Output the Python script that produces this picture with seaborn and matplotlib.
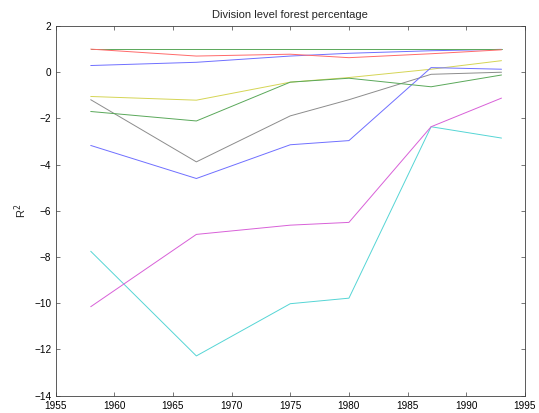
import matplotlib
matplotlib.use('Agg')
import matplotlib.pyplot as plt
import seaborn as sns
import pandas as pd

# Data
years = [1958, 1967, 1975, 1980, 1987, 1993]
blue_top = [0.29, 0.43, 0.70, 0.82, 0.93, 0.99]
green_top = [0.99, 0.99, 0.99, 0.99, 0.99, 0.99]
red = [1.00, 0.70, 0.78, 0.63, 0.80, 0.97]
cyan = [-7.75, -12.28, -10.02, -9.78, -2.36, -2.85]
magenta = [-10.15, -7.02, -6.62, -6.50, -2.36, -1.12]
yellow = [-1.05, -1.21, -0.43, -0.23, 0.13, 0.50]
black = [-1.19, -3.88, -1.89, -1.19, -0.09, 0.00]
blue_low = [-3.17, -4.60, -3.14, -2.96, 0.20, 0.13]
green_low = [-1.70, -2.11, -0.43, -0.26, -0.63, -0.12]

series = {
    's1': blue_top, 's2': green_top, 's3': red, 's4': cyan, 's5': magenta,
    's6': yellow, 's7': black, 's8': blue_low, 's9': green_low,
}
# thin MATLAB-style lines look washed out, so use lighter tints
colors = ['#6f6fff', '#5aa85a', '#ff6a6a', '#55d5d5', '#d860d8',
          '#d5d555', '#8c8c8c', '#6f6fff', '#5aa85a']


def main():
    rows = []
    for name, vals in series.items():
        for yr, v in zip(years, vals):
            rows.append({'year': yr, 'r2': v, 'series': name})
    df = pd.DataFrame(rows)

    sns.set_style('ticks')
    plt.rcParams['font.family'] = ['Liberation Sans', 'DejaVu Sans']

    fig = plt.figure(figsize=(5.39, 4.13), dpi=100)
    ax = fig.add_axes([0.103, 0.042, 0.871, 0.895])
    sns.lineplot(data=df, x='year', y='r2', hue='series', palette=colors,
                 legend=False, linewidth=0.7, errorbar=None, ax=ax)

    ax.set_xlim(1955, 1995)
    ax.set_ylim(-14, 2)
    ax.set_xticks(range(1955, 1996, 5))
    ax.set_yticks(range(-14, 3, 2))
    ax.set_xlabel('')
    ax.set_ylabel('R$^2$', fontsize=8)
    ax.set_title('Division level forest percentage', fontsize=8)
    ax.tick_params(direction='in', top=True, right=True, length=3,
                   width=0.5, labelsize=7.2, colors='#404040', labelcolor='black')
    ax.tick_params(axis='x', pad=4)
    ax.tick_params(axis='y', pad=3)
    for sp in ax.spines.values():
        sp.set_linewidth(0.6)
        sp.set_color('#404040')

    fig.savefig('out.png', dpi=100, facecolor='white')


if __name__ == "__main__":
    main()
